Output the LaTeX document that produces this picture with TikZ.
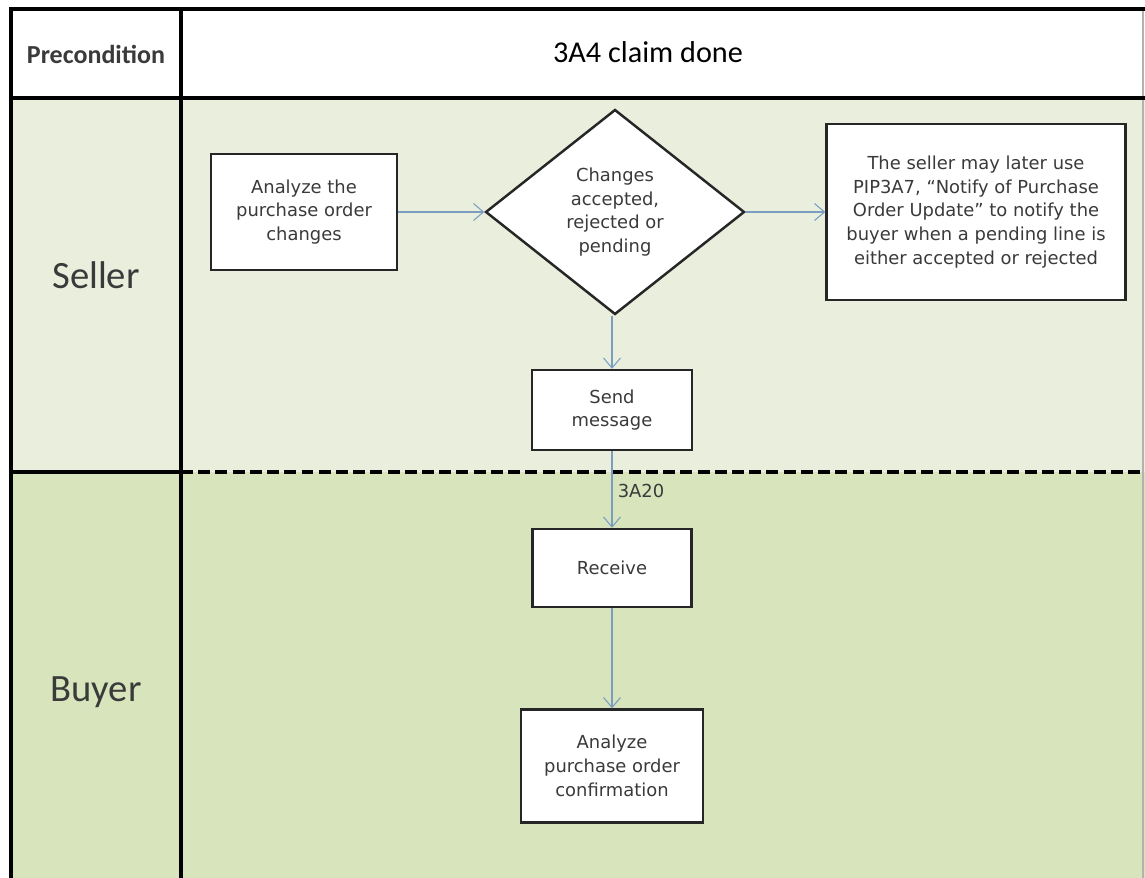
\documentclass[tikz,border=0pt]{standalone}
\usepackage{fontspec}
\setmainfont{DejaVu Sans}
\newfontfamily\lanefont{Carlito}
\usetikzlibrary{arrows.meta,shapes.geometric}
\definecolor{sellerbg}{HTML}{E9EFDC}
\definecolor{buyerbg}{HTML}{D8E4BC}
\definecolor{flowblue}{HTML}{7B9DC2}
\definecolor{textgray}{HTML}{3A3A3A}

\begin{document}
\begin{tikzpicture}[x=0.02cm,y=-0.02cm,
  every node/.style={font=\fontsize{10.2}{13.5}\selectfont,text=textgray},
  stepbox/.style={draw=black!85,line width=1.4pt,fill=white,align=center,inner sep=2pt},
  flow/.style={draw=flowblue,line width=.6pt,-{Straight Barb[length=2mm,width=3.4mm]}},
  lane/.style={line width=2pt}]
\useasboundingbox (0,0) rectangle (1145,878);
% lanes
\fill[white] (11,9) rectangle (1145,98);
\fill[sellerbg] (11,98) rectangle (1145,472);
\fill[buyerbg] (11,472) rectangle (1145,878);
\draw[black!30,line width=.6pt] (1143,9)--(1143,878);
\draw[lane] (11,878)--(11,9)--(1145,9);
\draw[lane] (181,9)--(181,878);
\draw[lane] (11,98)--(1145,98);
\draw[lane] (11,472)--(181,472);
\draw[lane,dash pattern=on 6.8pt off 3pt] (181,472)--(1145,472);
\node[font=\lanefont\bfseries\fontsize{14.8}{16}\selectfont] (pre) at (96,54) {Precondition};
\node[font=\lanefont\fontsize{17.2}{19}\selectfont,text=black] (claim) at (648,52) {3A4 claim done};
\node[font=\lanefont\fontsize{22}{24}\selectfont] (seller) at (96,275) {Seller};
\node[font=\lanefont\fontsize{22}{24}\selectfont] (buyer) at (96,692) {Buyer};
% steps
\node[stepbox,minimum width=3.72cm,minimum height=2.32cm] (ana) at (304,212) {Analyze the\\purchase order\\changes};
\node[stepbox,diamond,aspect=1.26,minimum width=5.18cm,minimum height=4.1cm,inner sep=0pt] (dec) at (615,212) {Changes\\accepted,\\rejected or\\pending};
\node[stepbox,minimum width=5.98cm,minimum height=3.52cm] (note) at (976,212) {The seller may later use\\PIP3A7, ``Notify of Purchase\\Order Update'' to notify the\\buyer when a pending line is\\either accepted or rejected};
\node[stepbox,minimum width=3.2cm,minimum height=1.6cm] (send) at (612,410) {Send\\message};
\node[stepbox,minimum width=3.18cm,minimum height=1.56cm] (recv) at (612,568) {Receive};
\node[stepbox,minimum width=3.64cm,minimum height=2.26cm] (conf) at (612,766) {Analyze\\purchase order\\confirmation};
% flows
\draw[flow] (ana)--(dec);
\draw[flow] (dec)--(note);
\draw[flow] (dec.south -| send.north)--(send.north);
\draw[flow] (send)--node[right,pos=.52,inner sep=3pt] (msg) {3A20} (recv);
\draw[flow] (recv)--(conf);
\end{tikzpicture}
\end{document}
